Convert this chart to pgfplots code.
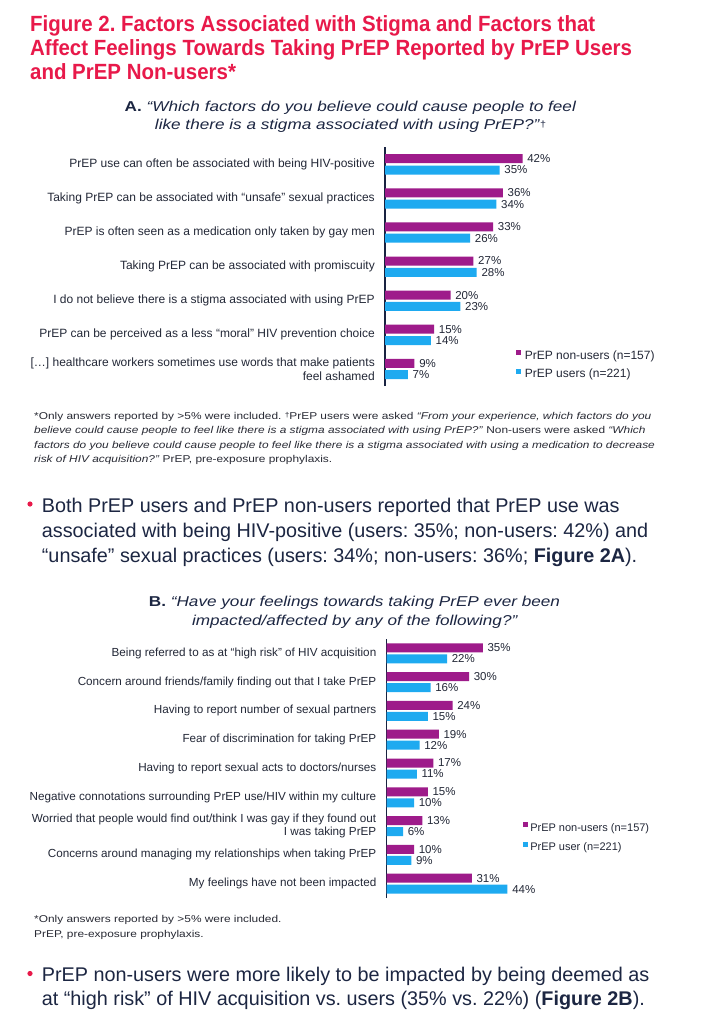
\documentclass[border=0pt]{standalone}
\usepackage{fontspec}
\setmainfont{Liberation Sans}
\newfontfamily\stretchfont[FakeStretch=1.2]{Liberation Sans}
\newfontfamily\titlefont[FakeStretch=0.93]{Liberation Sans}
\usepackage{pgfplots}
\pgfplotsset{compat=1.18}
\frenchspacing
\definecolor{titlered}{RGB}{232,25,74}
\definecolor{purp}{RGB}{158,27,138}
\definecolor{bluec}{RGB}{30,170,240}
\definecolor{navy}{RGB}{28,38,66}
\definecolor{labc}{RGB}{35,40,55}
\definecolor{fnc}{RGB}{40,42,52}
\definecolor{axisc}{RGB}{25,35,65}

\pgfplotsset{
  prepbars/.style={
    scale only axis, xmin=0, xmax=60,
    xbar, bar width=9bp, enlargelimits=false,
    axis x line=none, axis y line=left,
    y axis line style={-, line width=1.7bp, draw=axisc},
    major tick length=0pt,
    yticklabel style={font=\fontsize{12bp}{14bp}\selectfont, text=labc, align=right, inner sep=0pt, xshift=-10bp},
    point meta=x,
    /pgf/number format/assume math mode=true,
    nodes near coords={\pgfmathprintnumber{\pgfplotspointmeta}\%},
    every node near coord/.append style={font=\fontsize{11.5bp}{13bp}\selectfont, text=labc, anchor=west, inner sep=0pt, xshift=4.6bp},
    clip=false,
    legend cell align=left,
    legend image code/.code={\fill[##1] (0bp,1.2bp) rectangle (4.8bp,6bp);},
  }
}

\begin{document}
\begin{tikzpicture}[x=1bp,y=1bp]
\fill[white] (0,0) rectangle (702,-1030);
\path[use as bounding box] (0,0) rectangle (702,-1030);

% Title
\begin{scope}[every node/.style={anchor=base west, inner sep=0pt, text=titlered, font=\titlefont\bfseries\fontsize{22bp}{24bp}\selectfont}]
\node at (30,-31) {Figure 2. Factors Associated with Stigma and Factors that};
\node at (30,-55) {Affect Feelings Towards Taking PrEP Reported by PrEP Users};
\node at (30,-79) {and PrEP Non-users*};
\end{scope}

% Subtitle A
\begin{scope}[every node/.style={anchor=base, inner sep=0pt, text=navy, font=\stretchfont\fontsize{14.3bp}{18bp}\selectfont}]
\node at (350.5,-111) {\textbf{A.} \textit{“Which factors do you believe could cause people to feel}};
\node at (350.5,-129.5) {\textit{like there is a stigma associated with using PrEP?”}\raisebox{0.3ex}{\fontsize{9bp}{10bp}\selectfont †}};
\end{scope}

% Chart A
\begin{axis}[prepbars,
  at={(385bp,-147.3bp)}, anchor=north west,
  width=196.5bp, height=238.7bp,
  ymin=-0.5, ymax=6.5,
  ytick={0,...,6},
  yticklabels={
    {[…] healthcare workers sometimes use words that make patients\\feel ashamed},
    {PrEP can be perceived as a less “moral” HIV prevention choice},
    {I do not believe there is a stigma associated with using PrEP},
    {Taking PrEP can be associated with promiscuity},
    {PrEP is often seen as a medication only taken by gay men},
    {Taking PrEP can be associated with “unsafe” sexual practices},
    {PrEP use can often be associated with being HIV-positive}},
  legend style={at={(0.667,0.087)}, anchor=west, draw=none, fill=none, inner sep=0pt, outer sep=0pt,
    font=\fontsize{12bp}{14bp}\selectfont, text=labc, row sep=7.2bp, column sep=4bp,
    nodes={inner sep=0pt, text height=8.6bp, text depth=2.5bp}},
]
\addplot[fill=purp, draw=none, bar shift=5.65bp] coordinates {(42,6) (36,5) (33,4) (27,3) (20,2) (15,1) (9,0)};
\addlegendentry{PrEP non-users (n=157)}
\addplot[fill=bluec, draw=none, bar shift=-5.65bp] coordinates {(35,6) (34,5) (26,4) (28,3) (23,2) (14,1) (7,0)};
\addlegendentry{PrEP users (n=221)}
\end{axis}

% Footnote A
\begin{scope}[every node/.style={anchor=base west, inner sep=0pt, text=fnc, font=\stretchfont\fontsize{9.9bp}{14bp}\selectfont}]
\node at (34,-419) {*Only answers reported by >5\% were included. \raisebox{0.3ex}{\fontsize{7bp}{8bp}\selectfont †}PrEP users were asked \textit{“From your experience, which factors do you}};
\node at (34,-433.5) {\textit{believe could cause people to feel like there is a stigma associated with using PrEP?”} Non-users were asked \textit{“Which}};
\node at (34,-448) {\textit{factors do you believe could cause people to feel like there is a stigma associated with using a medication to decrease}};
\node at (34,-462.5) {\textit{risk of HIV acquisition?”} PrEP, pre-exposure prophylaxis.};
\end{scope}

% Bullet A
\fill[titlered] (30,-504) circle (2.6);
\begin{scope}[every node/.style={anchor=base west, inner sep=0pt, text=navy, font=\fontsize{19.8bp}{24bp}\selectfont}]
\node at (41.7,-512.7) {Both PrEP users and PrEP non-users reported that PrEP use was};
\node at (41.7,-537.3) {associated with being HIV-positive (users: 35\%; non-users: 42\%) and};
\node at (41.7,-562) {“unsafe” sexual practices (users: 34\%; non-users: 36\%; \textbf{Figure 2A}).};
\end{scope}

% Subtitle B
\begin{scope}[every node/.style={anchor=base, inner sep=0pt, text=navy, font=\stretchfont\fontsize{14.3bp}{18bp}\selectfont}]
\node at (354.5,-606) {\textbf{B.} \textit{“Have your feelings towards taking PrEP ever been}};
\node at (355,-625) {\textit{impacted/affected by any of the following?”}};
\end{scope}

% Chart B
\begin{axis}[prepbars,
  at={(386.5bp,-638.9bp)}, anchor=north west,
  width=165bp, height=259.2bp,
  ymin=-0.5, ymax=8.5,
  ytick={0,...,8},
  yticklabel style={font=\fontsize{11.7bp}{13.6bp}\selectfont},
  yticklabels={
    {My feelings have not been impacted},
    {Concerns around managing my relationships when taking PrEP},
    {Worried that people would find out/think I was gay if they found out\\I was taking PrEP},
    {Negative connotations surrounding PrEP use/HIV within my culture},
    {Having to report sexual acts to doctors/nurses},
    {Fear of discrimination for taking PrEP},
    {Having to report number of sexual partners},
    {Concern around friends/family finding out that I take PrEP},
    {Being referred to as at “high risk” of HIV acquisition}},
  legend style={at={(0.827,0.233)}, anchor=west, draw=none, fill=none, inner sep=0pt, outer sep=0pt,
    font=\fontsize{11bp}{13bp}\selectfont, text=labc, row sep=8.8bp, column sep=2.5bp,
    nodes={inner sep=0pt, text height=7.9bp, text depth=2.3bp}},
]
\addplot[fill=purp, draw=none, bar shift=5.5bp] coordinates {(31,0) (10,1) (13,2) (15,3) (17,4) (19,5) (24,6) (30,7) (35,8)};
\addlegendentry{PrEP non-users (n=157)}
\addplot[fill=bluec, draw=none, bar shift=-5.5bp] coordinates {(44,0) (9,1) (6,2) (10,3) (11,4) (12,5) (15,6) (16,7) (22,8)};
\addlegendentry{PrEP user (n=221)}
\end{axis}

% Footnote B
\begin{scope}[every node/.style={anchor=base west, inner sep=0pt, text=fnc, font=\stretchfont\fontsize{9.9bp}{14bp}\selectfont}]
\node at (34,-922.5) {*Only answers reported by >5\% were included.};
\node at (34,-937) {PrEP, pre-exposure prophylaxis.};
\end{scope}

% Bullet B
\fill[titlered] (30,-973.5) circle (2.6);
\begin{scope}[every node/.style={anchor=base west, inner sep=0pt, text=navy, font=\fontsize{19.8bp}{24bp}\selectfont}]
\node at (41.7,-981.5) {PrEP non-users were more likely to be impacted by being deemed as};
\node at (41.7,-1005) {at “high risk” of HIV acquisition vs. users (35\% vs. 22\%) (\textbf{Figure 2B}).};
\end{scope}
\end{tikzpicture}
\end{document}
